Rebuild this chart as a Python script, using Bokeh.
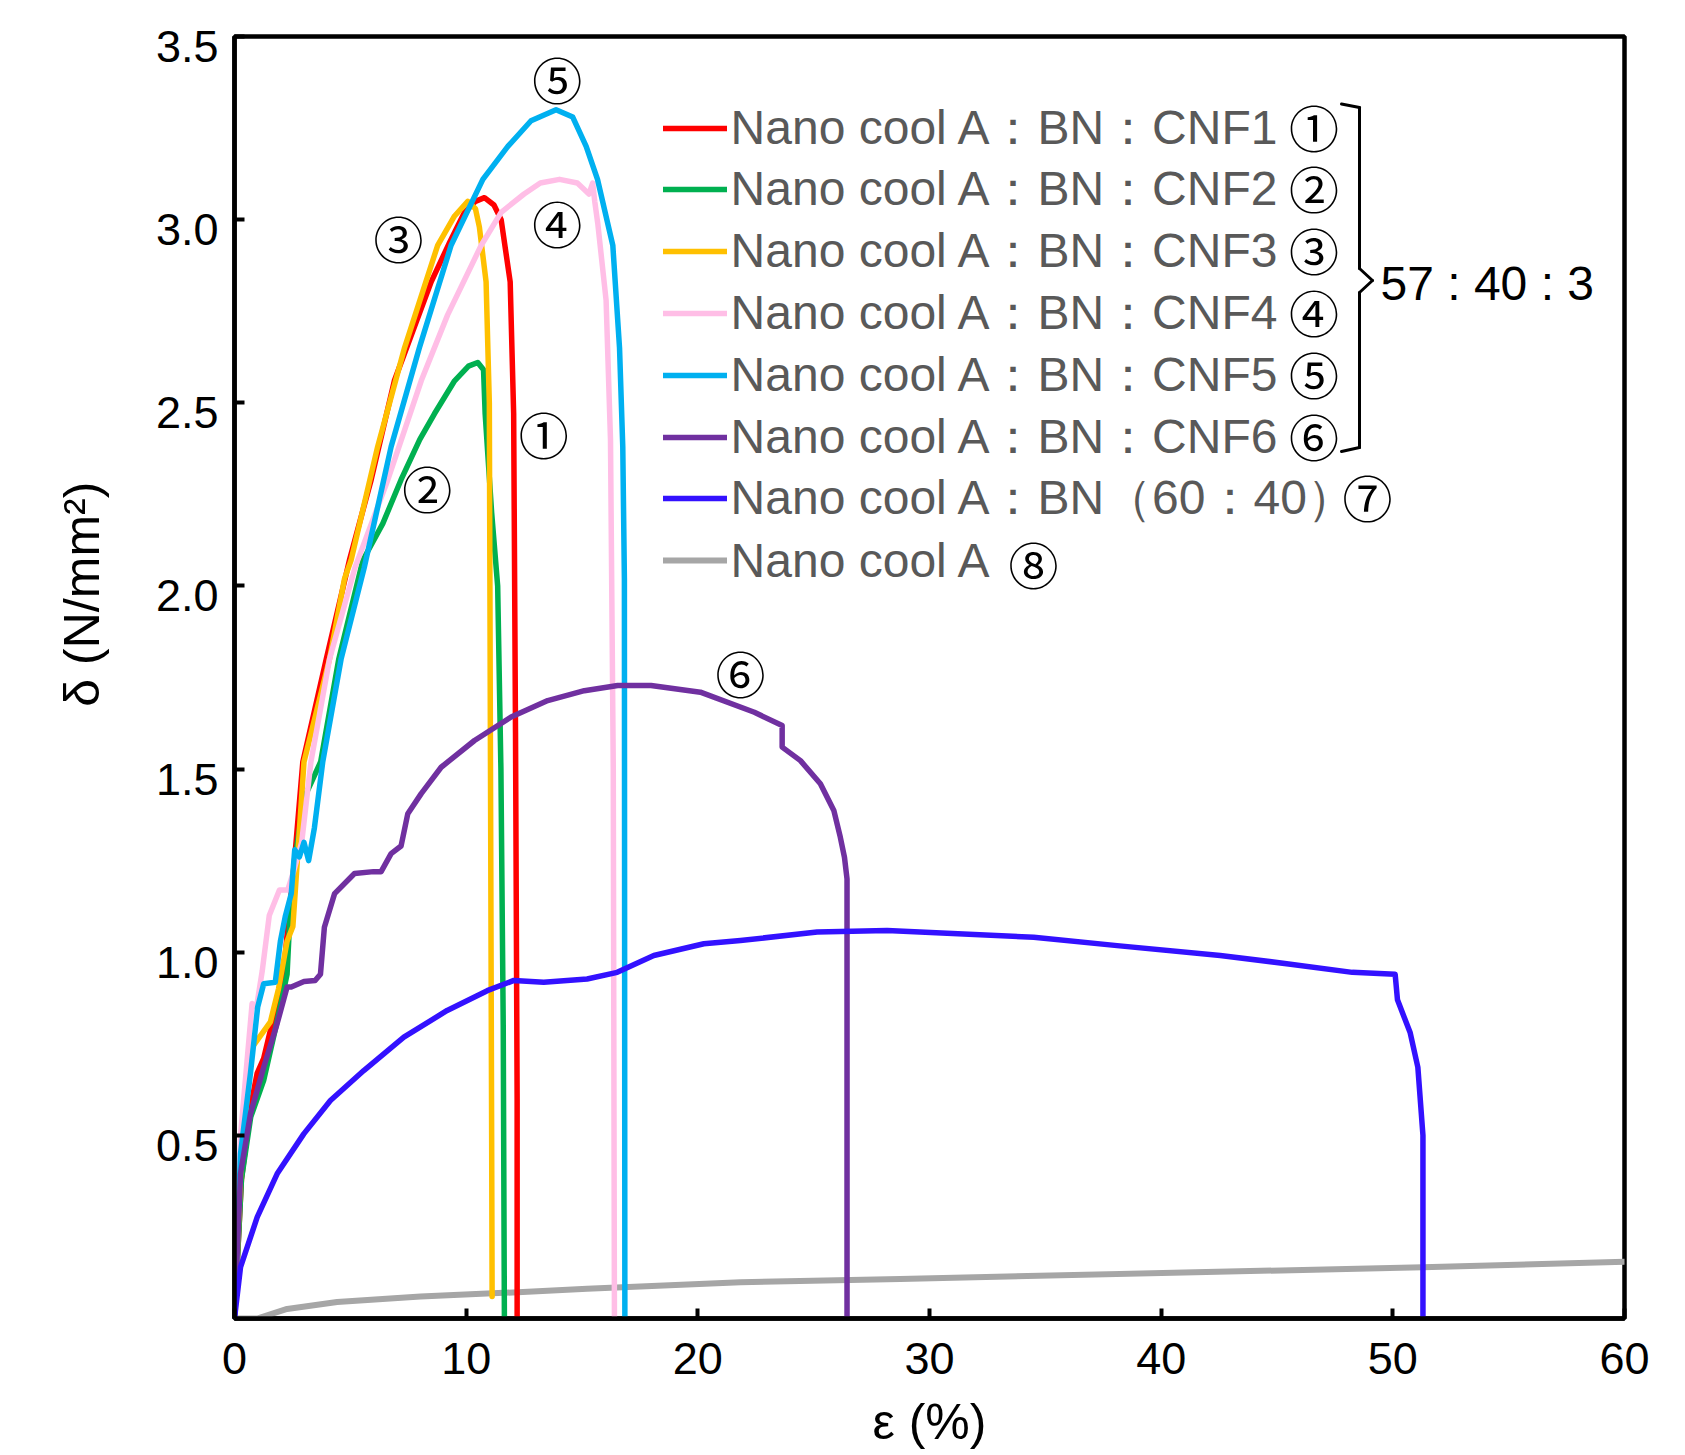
from bokeh.plotting import figure
from bokeh.models import (Range1d, FixedTicker, PrintfTickFormatter, Legend,
                          LegendItem, Label, Arrow, LinearAxis, CustomJSTickFormatter)
from bokeh.embed import file_html
from bokeh.resources import INLINE

# ---------------- data ----------------
series_names = [
    "Nano cool A：BN：CNF1",
    "Nano cool A：BN：CNF2",
    "Nano cool A：BN：CNF3",
    "Nano cool A：BN：CNF4",
    "Nano cool A：BN：CNF5",
    "Nano cool A：BN：CNF6",
    "Nano cool A：BN（60：40）",
    "Nano cool A",
]
series_marks = ["①", "②", "③", "④", "⑤", "⑥", "⑦", "⑧"]
series_colors = ["#FF0000", "#00B050", "#FFC000", "#FFBEE6",
                 "#00B0F0", "#7030A0", "#3311FF", "#A6A6A6"]

cnf1_x = [0, 0.3, 0.7, 0.98, 1.26, 1.6, 2.12, 2.3, 2.59, 2.95, 3.96, 4.96, 5.9,
          6.9, 8.49, 9.3, 9.93, 10.4, 10.79, 11.2, 11.51, 11.9, 12.05, 12.13, 12.2, 12.2]
cnf1_y = [0, 0.38, 0.58, 0.67, 0.71, 0.80, 0.94, 1.07, 1.25, 1.52, 1.80, 2.07, 2.29,
          2.56, 2.83, 2.94, 3.02, 3.05, 3.06, 3.04, 3.00, 2.83, 2.47, 1.60, 0.60, 0]

cnf2_x = [0, 0.3, 0.7, 1.26, 1.8, 2.27, 2.37, 2.6, 3.0, 3.72, 4.5, 5.54, 6.4, 7.19,
          8.0, 8.63, 9.5, 10.1, 10.5, 10.75, 10.82, 11.1, 11.36, 11.5, 11.6, 11.65]
cnf2_y = [0, 0.38, 0.55, 0.65, 0.80, 0.94, 1.07, 1.25, 1.42, 1.52, 1.80, 2.07, 2.17,
          2.29, 2.40, 2.47, 2.56, 2.60, 2.61, 2.59, 2.47, 2.20, 2.00, 1.50, 0.80, 0]

cnf3_x = [0, 0.3, 0.76, 1.55, 1.9, 2.27, 2.52, 3.0, 4.1, 4.75, 5.03, 6.18, 7.34,
          8.77, 9.5, 10.07, 10.4, 10.57, 10.86, 11.0, 11.05, 11.1, 11.12]
cnf3_y = [0, 0.45, 0.74, 0.81, 0.90, 1.03, 1.07, 1.52, 1.80, 2.02, 2.07, 2.38, 2.65,
          2.93, 3.01, 3.05, 3.03, 2.98, 2.83, 2.50, 1.50, 0.50, 0.06]

cnf4_x = [0, 0.26, 0.76, 0.95, 1.2, 1.5, 1.94, 2.3, 2.55, 2.9, 3.3, 4.1, 5.2, 6.62,
          8.06, 9.2, 10.65, 11.51, 12.5, 13.2, 14.03, 14.8, 15.3, 15.46, 15.55,
          15.68, 16.04, 16.23, 16.35, 16.4]
cnf4_y = [0, 0.50, 0.86, 0.85, 0.95, 1.10, 1.17, 1.17, 1.22, 1.30, 1.52, 1.80, 2.05,
          2.29, 2.56, 2.74, 2.93, 3.02, 3.07, 3.10, 3.11, 3.10, 3.07, 3.10, 3.05,
          2.99, 2.78, 2.40, 1.50, 0]

cnf5_x = [0, 0.26, 0.69, 1.0, 1.26, 1.76, 1.98, 2.2, 2.45, 2.6, 2.8, 3.0, 3.2, 3.45,
          3.81, 4.6, 5.6, 6.76, 7.98, 9.35, 10.72, 11.8, 12.8, 13.88, 14.6, 15.18,
          15.67, 16.0, 16.33, 16.62, 16.76, 16.83, 16.85]
cnf5_y = [0, 0.45, 0.67, 0.85, 0.914, 0.918, 1.03, 1.10, 1.16, 1.28, 1.26, 1.30, 1.25,
          1.34, 1.52, 1.80, 2.05, 2.38, 2.65, 2.93, 3.11, 3.20, 3.27, 3.30, 3.28, 3.20,
          3.11, 3.02, 2.93, 2.65, 2.38, 2.02, 0]

cnf6_x = [0, 0.26, 0.69, 1.26, 1.84, 2.27, 2.45, 3.0, 3.48, 3.71, 3.88, 4.32, 5.18,
          6.0, 6.33, 6.76, 7.19, 7.48, 8.06, 8.92, 10.36, 11.94, 13.52, 15.1, 16.54,
          17.98, 20.11, 22.44, 23.64, 23.64, 24.43, 25.29, 25.87, 26.15, 26.33,
          26.44, 26.44]
cnf6_y = [0, 0.395, 0.559, 0.686, 0.805, 0.905, 0.905, 0.92, 0.923, 0.94, 1.068, 1.16,
          1.215, 1.22, 1.22, 1.269, 1.29, 1.378, 1.433, 1.505, 1.578, 1.642, 1.687,
          1.714, 1.728, 1.728, 1.71, 1.655, 1.619, 1.56, 1.523, 1.46, 1.387, 1.314,
          1.259, 1.20, 0]

bn_x = [0, 0.26, 0.98, 1.84, 2.99, 4.14, 5.58, 7.31, 9.18, 10.91, 12.06, 13.35, 15.22,
        16.52, 18.1, 20.26, 21.84, 25.15, 28.17, 34.5, 38.1, 42.55, 45.5, 48.25,
        50.1, 50.2, 50.75, 51.08, 51.3, 51.3]
bn_y = [0, 0.14, 0.277, 0.395, 0.504, 0.595, 0.677, 0.768, 0.841, 0.895, 0.923,
        0.918, 0.927, 0.945, 0.991, 1.023, 1.032, 1.055, 1.059, 1.041, 1.018, 0.991,
        0.968, 0.945, 0.94, 0.87, 0.78, 0.686, 0.50, 0]

nca_x = [0, 0.98, 2.27, 4.43, 8.03, 11.62, 15.22, 21.84, 28.74, 41.47, 51.3, 60]
nca_y = [0, 0.0, 0.026, 0.045, 0.06, 0.07, 0.081, 0.099, 0.108, 0.126, 0.14, 0.155]

series_x = [cnf1_x, cnf2_x, cnf3_x, cnf4_x, cnf5_x, cnf6_x, bn_x, nca_x]
series_y = [cnf1_y, cnf2_y, cnf3_y, cnf4_y, cnf5_y, cnf6_y, bn_y, nca_y]

x_ticks = [0, 10, 20, 30, 40, 50, 60]
y_ticks = [0.5, 1.0, 1.5, 2.0, 2.5, 3.0, 3.5]
x_title = "ε (%)"
y_title = "δ (N/mm²)"
group_title = "57 : 40 : 3"

# curve annotation positions (data coords)
curve_mark_x = [13.35, 8.32, 7.08, 13.93, 13.93, 21.84]
curve_mark_y = [2.406, 2.259, 2.943, 2.984, 3.377, 1.755]

# ---------------- layout ----------------
W, H = 1685, 1455
FL, FR, FT, FB = 234, 1624, 36, 1318   # frame edges in page pixels
XMAX, YMAX = 60, 3.5
PX_PER_Y = (FB - FT) / YMAX
CJK_LIFT = 4.0        # circled-number glyphs sit low in their em box
YLABEL_DROP = 10.0    # reference y tick labels sit ~10 px below their ticks


def dx(px):
    return (px - FL) / ((FR - FL) / XMAX)


def dy(py):
    return (FB - py) / PX_PER_Y


FONT = "Liberation Sans"
CJK = "Noto Sans CJK JP"

p = figure(width=W, height=H, output_backend="svg", toolbar_location=None,
           x_range=Range1d(0, XMAX), y_range=Range1d(0, YMAX),
           min_border_left=FL, min_border_right=W - FR,
           min_border_top=FT, min_border_bottom=H - FB)
p.grid.visible = False
p.background_fill_color = "white"
p.border_fill_color = "white"
p.outline_line_color = "black"
p.outline_line_width = 4.5
p.outline_line_alpha = 1.0

for ax in (p.xaxis[0], p.yaxis[0]):
    ax.axis_line_width = 4.5
    ax.axis_line_color = "black"
    ax.major_tick_in = 10
    ax.major_tick_out = 0
    ax.major_tick_line_width = 4
    ax.major_tick_line_color = "black"
    ax.minor_tick_line_color = None
    ax.major_label_text_font = FONT
    ax.major_label_text_font_size = "45px"
    ax.major_label_text_color = "black"
    ax.axis_label_text_font = FONT
    ax.axis_label_text_font_size = "50px"
    ax.axis_label_text_font_style = "normal"
    ax.axis_label_text_color = "black"

p.xaxis.ticker = FixedTicker(ticks=x_ticks)
p.xaxis.major_label_standoff = 24
p.xaxis.axis_label = x_title
p.xaxis.axis_label_standoff = 17

# main y axis: line and inward ticks only
p.yaxis.ticker = FixedTicker(ticks=y_ticks)
p.yaxis.formatter = CustomJSTickFormatter(code="return ''")
p.yaxis.major_label_standoff = 0

# label axis on a range shifted by a few pixels, so the numbers sit a little
# below their ticks as in the reference
shift = YLABEL_DROP / PX_PER_Y
p.extra_y_ranges = {"ylab": Range1d(shift, YMAX + shift)}
ylab = LinearAxis(y_range_name="ylab", ticker=FixedTicker(ticks=y_ticks),
                  formatter=PrintfTickFormatter(format="%.1f"),
                  axis_line_color=None, major_tick_line_color=None,
                  minor_tick_line_color=None, major_tick_in=0, major_tick_out=0,
                  major_label_standoff=16,
                  major_label_text_font=FONT, major_label_text_font_size="45px",
                  major_label_text_color="black",
                  axis_label="\u00a0" * 12 + y_title,   # title sits above centre
                  axis_label_standoff=43, axis_label_text_font=FONT,
                  axis_label_text_font_size="50px",
                  axis_label_text_font_style="normal",
                  axis_label_text_color="black")
p.add_layout(ylab, "left")

# ---------------- curves ----------------
draw_order = [7, 0, 1, 2, 3, 4, 5, 6]
renderers = [None] * 8
for i in draw_order:
    renderers[i] = p.line(series_x[i], series_y[i], line_color=series_colors[i],
                          line_width=6 if i == 7 else 5.5,
                          line_join="round", line_cap="round")

# ---------------- legend (one entry per row, exact row pitch) ----------------
ROW0, PITCH = 127.5, 61.8
ITEM_H = 64
for i in range(8):
    row_c = ROW0 + i * PITCH
    leg = Legend(items=[LegendItem(label=series_names[i], renderers=[renderers[i]])],
                 location=(662.6 - FL, FB - (row_c + ITEM_H / 2)),
                 orientation="vertical", padding=0, margin=0, spacing=0,
                 glyph_width=64, glyph_height=ITEM_H, label_height=ITEM_H,
                 label_standoff=4,
                 label_text_font=FONT, label_text_font_size="48px",
                 label_text_color="#595959", label_text_baseline="middle",
                 border_line_color=None, background_fill_alpha=0)
    p.add_layout(leg, "center")

legend_mark_px = [(1313.5, 129 + i * PITCH) for i in range(6)] + \
                 [(1367, 499), (1033, 566)]
for i in range(8):
    mx, my = legend_mark_px[i]
    p.add_layout(Label(x=dx(mx), y=dy(my - CJK_LIFT),
                       text=series_marks[i], text_align="center",
                       text_baseline="middle", text_font=CJK,
                       text_font_size="50px", text_color="black"))

# curve labels
for i in range(6):
    p.add_layout(Label(x=curve_mark_x[i], y=curve_mark_y[i] + CJK_LIFT / PX_PER_Y,
                       text=series_marks[i],
                       text_align="center", text_baseline="middle", text_font=CJK,
                       text_font_size="50px", text_color="black"))

# brace grouping CNF1-6 and its ratio label
brace_px = [(1341, 103.5), (1359, 107), (1359, 268), (1372, 280),
            (1359, 292), (1359, 447), (1341, 451)]
for (x0, y0), (x1, y1) in zip(brace_px[:-1], brace_px[1:]):
    p.add_layout(Arrow(end=None, x_start=dx(x0), y_start=dy(y0),
                       x_end=dx(x1), y_end=dy(y1), line_width=3,
                       line_color="black", line_join="round", line_cap="round"))

p.add_layout(Label(x=dx(1380), y=dy(283), text=group_title, text_align="left",
                   text_baseline="middle", text_font=FONT, text_font_size="48px",
                   text_color="black"))

open("out.html", "w").write(file_html(p, INLINE))
